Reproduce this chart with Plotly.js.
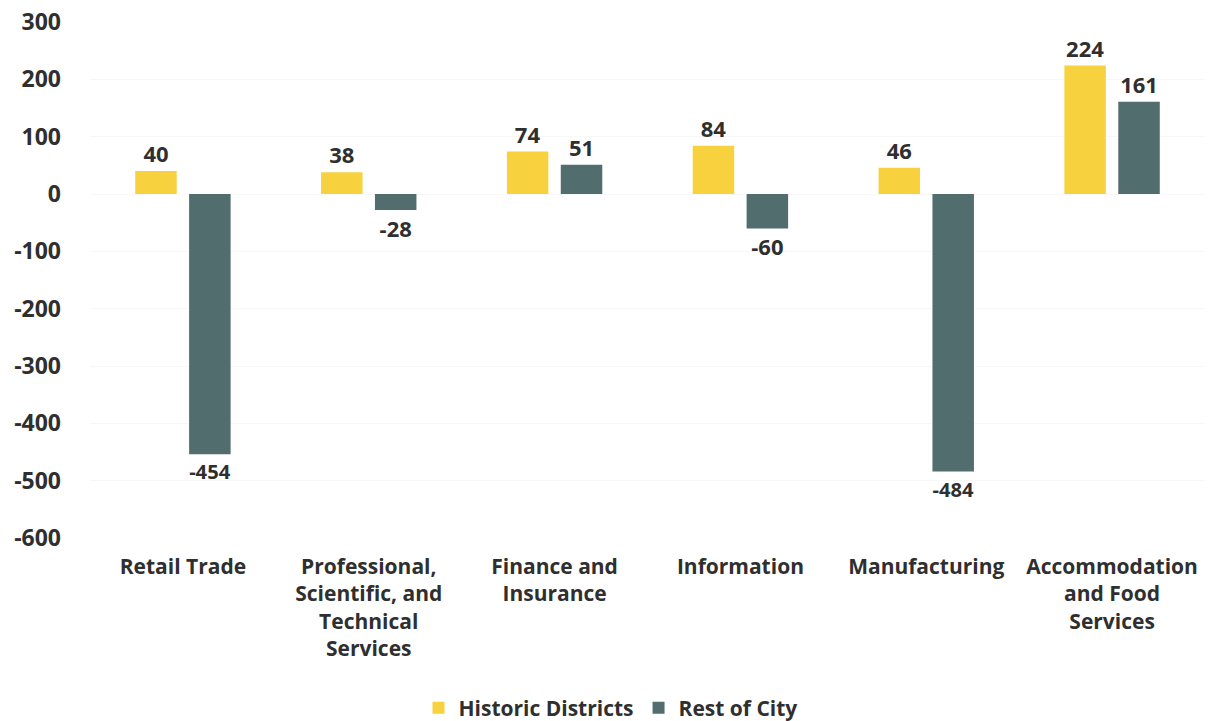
<!DOCTYPE html>
<html>
<head>
<meta charset="utf-8">
<script src="https://cdn.plot.ly/plotly-3.0.1.min.js"></script>
<style>html,body{margin:0;padding:0;background:#fff;}#chart{width:1221px;height:721px;}</style>
</head>
<body>
<div id="chart"></div>
<script>
var categories = ["Retail Trade", "Professional,<br>Scientific, and<br>Technical<br>Services", "Finance and<br>Insurance", "Information", "Manufacturing", "Accommodation<br>and Food<br>Services"];
var historicDistricts = [40, 38, 74, 84, 46, 224];
var restOfCity = [-454, -28, 51, -60, -484, 161];
var yTicks = [300, 200, 100, 0, -100, -200, -300, -400, -500, -600];

var fontFam = "Open Sans, Lato, sans-serif";
var textFont = {family: fontFam, size: 22, color: "#2f2f2f", weight: 700};

var traces = [
  {type: "bar", name: "Historic Districts", x: categories, y: historicDistricts,
   marker: {color: "#F8D23E"}, text: historicDistricts.map(String), textposition: "outside",
   textfont: textFont, cliponaxis: false, hoverinfo: "none"},
  {type: "bar", name: "Rest of City", x: categories, y: restOfCity,
   marker: {color: "#516D6E"}, text: restOfCity.map(String), textposition: "outside",
   textfont: textFont, cliponaxis: false, hoverinfo: "none"}
];

var layout = {
  width: 1221, height: 721,
  margin: {l: 90, r: 16, t: 22, b: 183, autoexpand: false},
  paper_bgcolor: "#ffffff", plot_bgcolor: "#ffffff",
  barmode: "group", bargap: 0.42, bargroupgap: 0.23,
  font: {family: fontFam, color: "#2f2f2f"},
  xaxis: {type: "category", tickfont: {family: fontFam, size: 21, color: "#2f2f2f", weight: 700},
          showgrid: false, zeroline: false, showline: false, ticks: "", ticklabelstandoff: 14},
  yaxis: {range: [-600, 300], tickvals: yTicks, ticktext: yTicks.map(String),
          tickfont: {family: fontFam, size: 23, color: "#2f2f2f", weight: 700},
          showgrid: true, gridcolor: "#f7f7f7", zeroline: false, showline: false, ticks: "",
          ticklabelstandoff: 28},
  showlegend: true,
  legend: {orientation: "h", x: 0.5, xref: "container", xanchor: "center",
           y: 0.018, yref: "container", yanchor: "middle",
           font: {family: fontFam, size: 21, color: "#2f2f2f", weight: 700},
           itemwidth: 30, tracegroupgap: 0}
};

Plotly.newPlot("chart", traces, layout, {displayModeBar: false, staticPlot: true});
</script>
</body>
</html>
